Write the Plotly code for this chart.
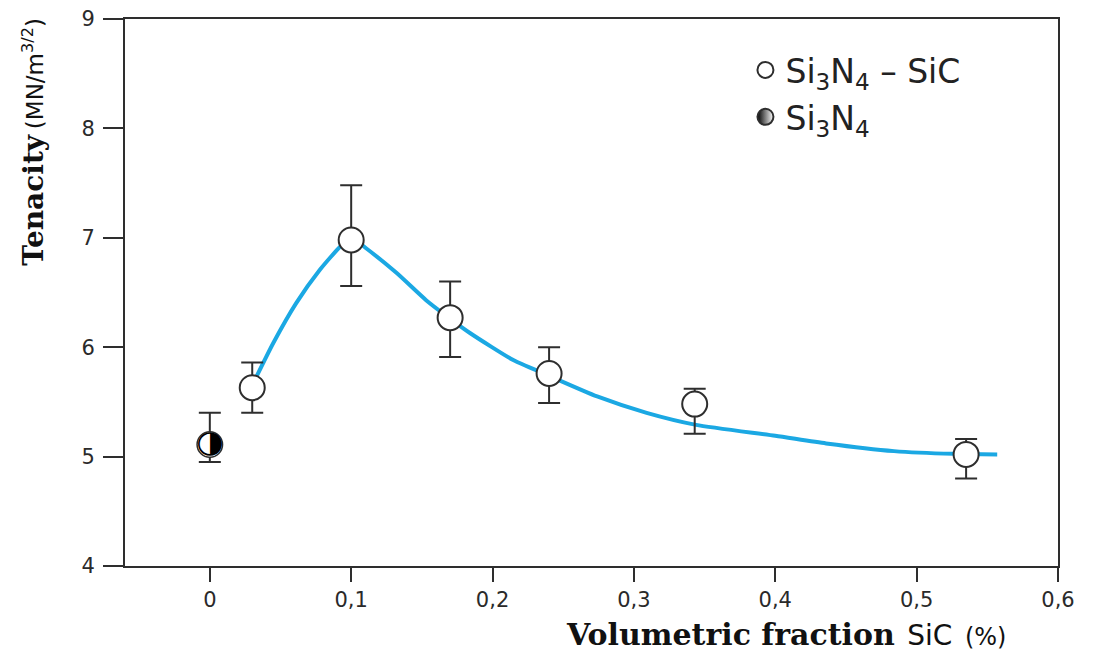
import plotly.graph_objects as go

# Si3N4-SiC measurements
sic_x = [0.03, 0.10, 0.17, 0.24, 0.343, 0.535]
sic_y = [5.63, 6.98, 6.27, 5.76, 5.48, 5.02]
sic_err_plus = [0.23, 0.50, 0.33, 0.24, 0.14, 0.14]
sic_err_minus = [0.23, 0.42, 0.36, 0.27, 0.27, 0.22]

# Si3N4 reference
si_x = [0.0]
si_y = [5.11]
si_err_plus = [0.29]
si_err_minus = [0.16]

# fitted trend curve
curve_x = [0.033, 0.045, 0.061, 0.078, 0.093, 0.100, 0.111, 0.132, 0.153, 0.168,
           0.184, 0.215, 0.238, 0.274, 0.309, 0.344, 0.400, 0.436, 0.484, 0.526,
           0.557]
curve_y = [5.73, 6.04, 6.40, 6.71, 6.93, 7.00, 6.90, 6.68, 6.43, 6.28,
           6.13, 5.88, 5.75, 5.55, 5.40, 5.29, 5.19, 5.12, 5.05, 5.025,
           5.02]

x_tickvals = [0, 0.1, 0.2, 0.3, 0.4, 0.5, 0.6]
x_ticktext = ["0", "0,1", "0,2", "0,3", "0,4", "0,5", "0,6"]
y_tickvals = [4, 5, 6, 7, 8, 9]

dark = "#2e2e2e"
blue = "#1ba8e3"

fig = go.Figure()

fig.add_trace(go.Scatter(
    x=curve_x, y=curve_y, mode="lines",
    line=dict(color=blue, width=4, shape="spline", smoothing=0.6),
    showlegend=False, hoverinfo="skip"))

fig.add_trace(go.Scatter(
    x=sic_x, y=sic_y, mode="markers", name="Si<sub>3</sub>N<sub>4</sub> \u2013 SiC",
    legendgroup="a",
    marker=dict(symbol="circle", size=25, color="white", line=dict(color=dark, width=2)),
    error_y=dict(type="data", symmetric=False, array=sic_err_plus, arrayminus=sic_err_minus,
                 color=dark, thickness=2, width=11)))

fig.add_trace(go.Scatter(
    x=si_x, y=si_y, mode="markers", name="Si<sub>3</sub>N<sub>4</sub>",
    legendgroup="b",
    marker=dict(symbol="circle", size=25, color="black", line=dict(color=dark, width=2),
                gradient=dict(type="horizontal", color="white")),
    error_y=dict(type="data", symmetric=False, array=si_err_plus, arrayminus=si_err_minus,
                 color=dark, thickness=2, width=11)))

# white mask over the error bar, then a half-filled circle glyph on top
fig.add_trace(go.Scatter(
    x=si_x, y=si_y, mode="markers", showlegend=False, hoverinfo="skip",
    marker=dict(symbol="circle", size=24, color="white", line=dict(color="white", width=0))))

fig.add_trace(go.Scatter(
    x=si_x, y=si_y, mode="text", text=["\u25D1"], showlegend=False, hoverinfo="skip",
    textposition="middle center",
    textfont=dict(family="DejaVu Sans", size=31, color="black")))

axis_common = dict(showline=True, linecolor=dark, linewidth=2, mirror=True,
                   showgrid=False, zeroline=False, ticks="outside", tickcolor=dark,
                   tickwidth=2, automargin=False, ticklabeloverflow="allow",
                   tickfont=dict(family="DejaVu Sans", size=21, color="#2a2a2a"))

fig.update_xaxes(range=[-0.06, 0.6], tickvals=x_tickvals, ticktext=x_ticktext,
                 ticklen=14, **axis_common)
fig.update_yaxes(range=[4, 9], tickvals=y_tickvals, ticklen=20,
                 ticklabelstandoff=4, **axis_common)

fig.add_annotation(
    xref="paper", yref="paper", x=-0.099, y=0.775, textangle=-90, showarrow=False,
    xanchor="center", yanchor="middle",
    text="<b><span style='font-family:DejaVu Serif;font-size:28px'>Tenacity</span></b>"
         " <span style='font-family:DejaVu Sans;font-size:23px'>(MN/m<sup>3/2</sup>)</span>",
    font=dict(color="#111", size=22))

fig.add_annotation(
    xref="paper", yref="paper", x=0.708, y=-0.126, showarrow=False,
    xanchor="center", yanchor="middle",
    text="<b><span style='font-family:DejaVu Serif;font-size:30px'>Volumetric fraction</span></b>"
         "&nbsp; <span style='font-family:DejaVu Sans;font-size:28px'>SiC</span>"
         "&nbsp; <span style='font-family:DejaVu Sans;font-size:24px'>(%)</span>",
    font=dict(color="#111", size=24))

fig.update_layout(
    width=1094, height=653,
    margin=dict(l=117, r=44, t=11, b=95),
    paper_bgcolor="white", plot_bgcolor="white",
    legend=dict(x=0.665, y=0.958, xanchor="left", yanchor="top",
                font=dict(family="DejaVu Sans", size=33, color="#222"),
                traceorder="grouped", tracegroupgap=1, bgcolor="rgba(0,0,0,0)"),
)

fig.write_html("out.html")
